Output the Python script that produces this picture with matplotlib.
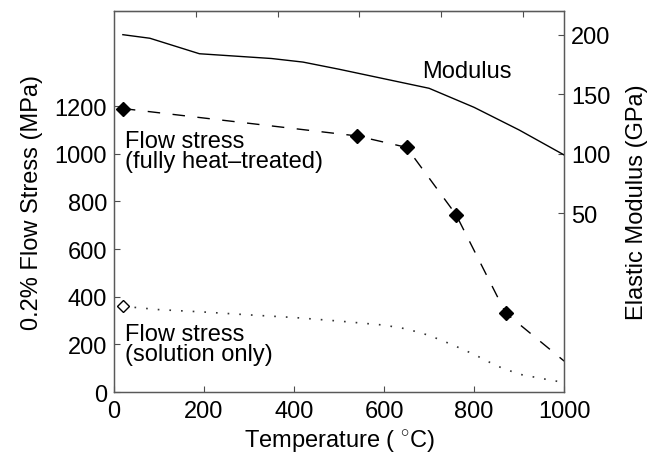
import matplotlib
matplotlib.use('Agg')
import matplotlib.pyplot as plt

plt.rcParams['font.family'] = ['Liberation Sans', 'DejaVu Sans']
plt.rcParams['font.size'] = 17
plt.rcParams['mathtext.fontset'] = 'custom'
plt.rcParams['mathtext.rm'] = 'Liberation Sans'

# elastic modulus (GPa) vs temperature (C)
mod_temp = [20, 80, 190, 350, 420, 500, 600, 700, 800, 900, 1000]
mod_gpa = [200, 197, 184, 180, 177, 171, 163, 155, 139, 120, 99]

# 0.2% flow stress, fully heat-treated (MPa)
ht_temp = [20, 540, 650, 760, 870, 1000]
ht_stress = [1190, 1075, 1027, 744, 332, 130]

# 0.2% flow stress, solution treated only (MPa)
sol_temp = [20, 100, 200, 300, 400, 500, 600, 650, 700, 750, 800, 850, 900, 950, 1000]
sol_stress = [360, 346, 336, 324, 313, 298, 281, 265, 238, 200, 158, 110, 75, 57, 40]

x_ticks = [0, 200, 400, 600, 800, 1000]
stress_ticks = [0, 200, 400, 600, 800, 1000, 1200]
mod_ticks = [50, 100, 150, 200]
top_ticks = [200, 400, 600, 800, 1000]

fig = plt.figure(figsize=(6.47, 4.56), dpi=100)
ax = fig.add_axes([0.176, 0.138, 0.696, 0.836])

ax.plot(ht_temp, ht_stress, color='k', lw=1.0, dashes=(9, 9),
        marker='D', ms=7.5, mfc='k', mec='k', markevery=slice(0, 5))
ax.plot(sol_temp, sol_stress, color='0.2', lw=1.2, linestyle=(0, (1, 6)),
        marker='D', ms=6.5, mfc='white', mec='k', mew=1.0, markevery=[0])

ax.set_xlim(0, 1000)
ax.set_ylim(0, 1600)
ax.set_xticks(x_ticks)
ax.set_yticks(stress_ticks)
ax.tick_params(direction='in', length=4, width=0.8, pad=6, colors='0.3', labelcolor='k')
ax.tick_params(axis='y', pad=5)
ax.set_xlabel('Temperature ( $^{\\circ}$C)', labelpad=4)
ax.set_ylabel('0.2% Flow Stress (MPa)', labelpad=8)

ax2 = ax.twinx()
ax2.plot(mod_temp, mod_gpa, color='k', lw=1.0)
ax2.set_ylim(-100, 220)
ax2.set_yticks(mod_ticks)
ax2.tick_params(direction='in', length=4, width=0.8, pad=5, colors='0.3', labelcolor='k')
ax2.set_ylabel('Elastic Modulus (GPa)', labelpad=11)

top = ax.secondary_xaxis('top', functions=(lambda t: t * 1.1, lambda t: t / 1.1))
top.set_xticks(top_ticks)
top.set_xticklabels([])
top.tick_params(direction='in', length=4, width=0.8, colors='0.3')

for a in (ax, ax2):
    for s in a.spines.values():
        s.set_color('0.35')
        s.set_linewidth(0.9)
top.spines['top'].set_color('0.35')

ax.text(684, 1323, 'Modulus', ha='left', va='baseline')
ax.text(24, 1027, 'Flow stress', ha='left', va='baseline')
ax.text(24, 943, '(fully heat\u2013treated)', ha='left', va='baseline')
ax.text(24, 220, 'Flow stress', ha='left', va='baseline')
ax.text(24, 135, '(solution only)', ha='left', va='baseline')

fig.savefig('out.png', dpi=100)
